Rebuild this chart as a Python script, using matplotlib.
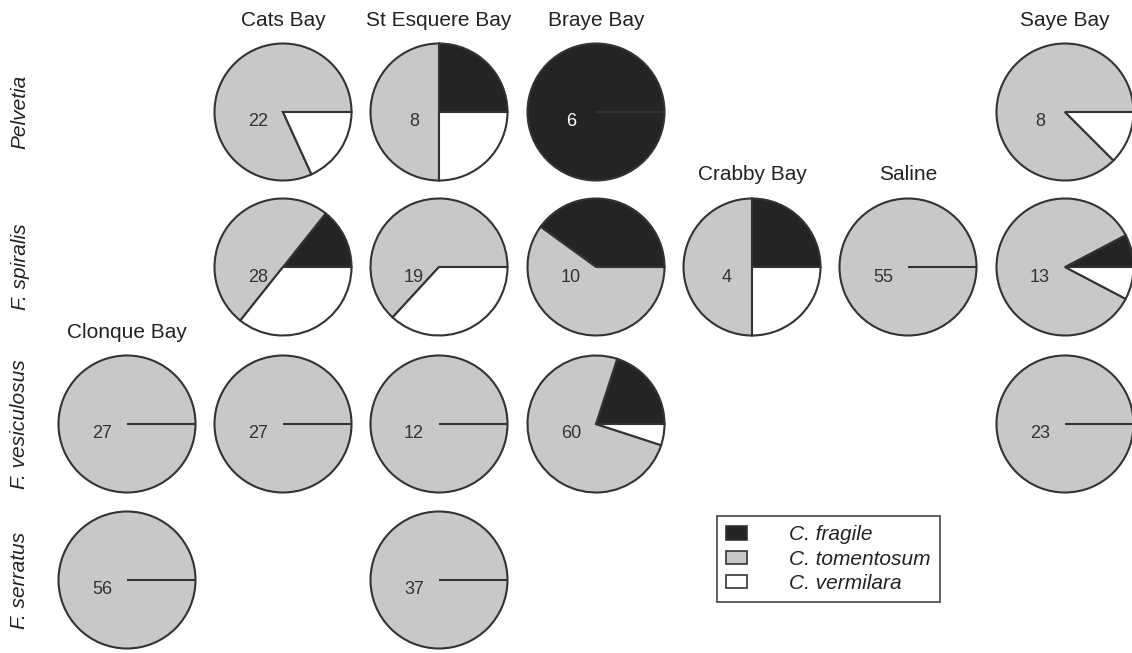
import matplotlib.pyplot as plt
from matplotlib.patches import Patch

plt.rcParams['font.family'] = ['Liberation Sans', 'DejaVu Sans']

# sites (columns) and host algae (rows)
sites = ['Clonque Bay', 'Cats Bay', 'St Esquere Bay', 'Braye Bay',
         'Crabby Bay', 'Saline', 'Saye Bay']
hosts = ['Pelvetia', 'F. spiralis', 'F. vesiculosus', 'F. serratus']
species = ['C. fragile', 'C. tomentosum', 'C. vermilara']

# counts per (host, site): [fragile, tomentosum, vermilara]
pelvetia = {'Cats Bay': [0, 18, 4], 'St Esquere Bay': [2, 4, 2],
            'Braye Bay': [6, 0, 0], 'Saye Bay': [0, 7, 1]}
spiralis = {'Cats Bay': [4, 14, 10], 'St Esquere Bay': [0, 12, 7],
            'Braye Bay': [4, 6, 0], 'Crabby Bay': [1, 2, 1],
            'Saline': [0, 55, 0], 'Saye Bay': [1, 11, 1]}
vesiculosus = {'Clonque Bay': [0, 27, 0], 'Cats Bay': [0, 27, 0],
               'St Esquere Bay': [0, 12, 0], 'Braye Bay': [12, 45, 3],
               'Saye Bay': [0, 23, 0]}
serratus = {'Clonque Bay': [0, 56, 0], 'St Esquere Bay': [0, 37, 0]}
data = [pelvetia, spiralis, vesiculosus, serratus]

colors = ['#242424', '#c8c8c8', '#ffffff']
edge = '#333333'

W, H = 1132, 653
fig = plt.figure(figsize=(W / 100, H / 100), dpi=100)
ax = fig.add_axes([0, 0, 1, 1])

col_x = [127, 283, 439, 596, 752, 908, 1065]
row_y = [112, 267, 424, 580]
r = 68.5

for i, host in enumerate(hosts):
    for j, site in enumerate(sites):
        if site not in data[i]:
            continue
        counts = data[i][site]
        cx, cy = col_x[j], H - row_y[i]
        only_fragile = counts[0] == sum(counts)
        ax.pie(counts, center=(cx, cy), radius=r, startangle=0,
               counterclock=True, colors=colors, frame=True,
               wedgeprops=dict(edgecolor=edge, linewidth=1.5))
        ax.text(cx - 25, cy - 10, str(sum(counts)), ha='center',
                va='center', fontsize=13,
                color='white' if only_fragile else '#333333')
        # site title above the topmost pie of each column
        if all(site not in data[k] for k in range(i)):
            ax.text(cx, cy + 92, site, ha='center', va='center',
                    fontsize=15, color='#222222')
    ax.text(20, H - row_y[i], host, rotation=90, ha='center', va='center',
            fontsize=15, style='italic', color='#222222')

ax.set_xlim(0, W)
ax.set_ylim(0, H)
ax.set_aspect('equal')
ax.axis('off')

handles = [Patch(facecolor=c, edgecolor=edge, linewidth=1.2) for c in colors]
leg = ax.legend(handles, species, loc='upper left',
                bbox_to_anchor=(717 / W, 1 - 516 / H),
                bbox_transform=fig.transFigure, borderaxespad=0,
                fancybox=False, edgecolor='#444444', framealpha=1,
                handlelength=1.0, handleheight=0.6, handletextpad=2.0,
                labelspacing=0.25, borderpad=0.45,
                prop={'size': 15, 'style': 'italic'})
leg.get_frame().set_linewidth(1.2)
for t in leg.get_texts():
    t.set_color('#222222')

fig.savefig('out.png', dpi=100)
